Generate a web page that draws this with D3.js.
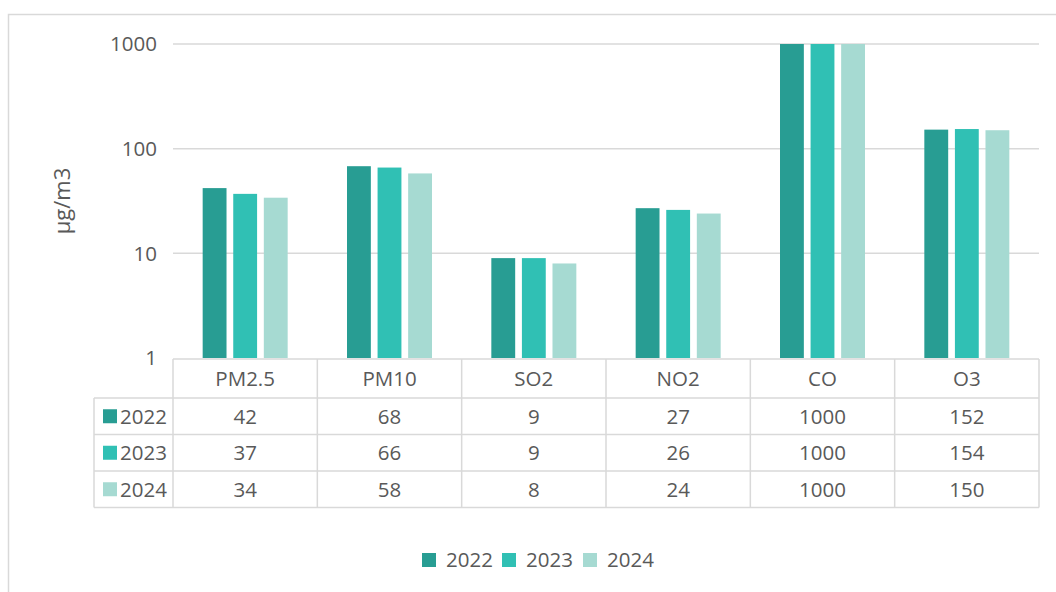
<!DOCTYPE html>
<html>
<head>
<meta charset="utf-8">
<script src="https://cdn.jsdelivr.net/npm/d3@7"></script>
<style>
  body { margin: 0; background: #fff; }
  text { font-family: "Open Sans", "Noto Sans", sans-serif; fill: #595959; }
</style>
</head>
<body>
<div id="chart"></div>
<script>
// data
var pollutants = ["PM2.5", "PM10", "SO2", "NO2", "CO", "O3"];
var years = ["2022", "2023", "2024"];
var values2022 = [42, 68, 9, 27, 1000, 152];
var values2023 = [37, 66, 9, 26, 1000, 154];
var values2024 = [34, 58, 8, 24, 1000, 150];
var yTicks = [1, 10, 100, 1000];
var colors = ["#289d93", "#30c0b4", "#a6dad2"];

var series = [values2022, values2023, values2024];

var W = 1056, H = 592;
var plot = { left: 173, right: 1039, top: 44, bottom: 358 };
var rowH = 36.5, headerH = 39;
var fs = 20.5;

var svg = d3.select("#chart").append("svg")
    .attr("width", W).attr("height", H);

// outer chart frame (runs off the right / bottom of the picture)
svg.append("rect")
    .attr("x", 8.5).attr("y", 14.5)
    .attr("width", 1200).attr("height", 800)
    .attr("fill", "none").attr("stroke", "#d9d9d9").attr("stroke-width", 1.5);

var x = d3.scaleBand().domain(pollutants).range([plot.left, plot.right]);
var y = d3.scaleLog().domain([1, 1000]).range([plot.bottom, plot.top]);
var xSub = d3.scaleBand().domain(years)
    .range([0, 85]).paddingInner(0.22);

// gridlines
svg.append("g").selectAll("line")
    .data(yTicks.slice(1))
    .join("line")
    .attr("x1", plot.left).attr("x2", plot.right)
    .attr("y1", function (d) { return y(d); })
    .attr("y2", function (d) { return y(d); })
    .attr("stroke", "#d9d9d9").attr("stroke-width", 1.5);

// y tick labels
svg.append("g").selectAll("text")
    .data(yTicks)
    .join("text")
    .attr("x", 157)
    .attr("y", function (d) { return y(d); })
    .attr("dy", "0.35em")
    .attr("text-anchor", "end")
    .attr("font-size", fs)
    .text(function (d) { return d; });

// y axis title
svg.append("text")
    .attr("transform", "translate(70,201) rotate(-90)")
    .attr("text-anchor", "middle")
    .attr("font-size", 22)
    .text("µg/m3");

// bars
years.forEach(function (yr, i) {
    svg.append("g").selectAll("rect")
        .data(series[i])
        .join("rect")
        .attr("x", function (d, j) {
            return x(pollutants[j]) + x.bandwidth() / 2 - 42.5 + xSub(yr);
        })
        .attr("y", function (d) { return y(d); })
        .attr("width", xSub.bandwidth())
        .attr("height", function (d) { return y(1) - y(d); })
        .attr("fill", colors[i]);
});

// data table
var tbl = svg.append("g");
var tTop = plot.bottom + 1, tLeft = 94;
var tBottom = tTop + headerH + rowH * 3;
var lineColor = "#d9d9d9";

function hline(x1, x2, yy) {
    tbl.append("line").attr("x1", x1).attr("x2", x2).attr("y1", yy).attr("y2", yy)
        .attr("stroke", lineColor).attr("stroke-width", 1.5);
}
function vline(xx, y1, y2) {
    tbl.append("line").attr("x1", xx).attr("x2", xx).attr("y1", y1).attr("y2", y2)
        .attr("stroke", lineColor).attr("stroke-width", 1.5);
}

hline(plot.left, plot.right, tTop);
for (var r = 0; r <= 3; r++) {
    hline(tLeft, plot.right, tTop + headerH + r * rowH);
}
vline(tLeft, tTop + headerH, tBottom);
pollutants.forEach(function (p) { vline(x(p), tTop, tBottom); });
vline(plot.right, tTop, tBottom);

// header
tbl.selectAll(".hdr")
    .data(pollutants)
    .join("text")
    .attr("class", "hdr")
    .attr("x", function (d) { return x(d) + x.bandwidth() / 2; })
    .attr("y", tTop + headerH / 2)
    .attr("dy", "0.36em")
    .attr("text-anchor", "middle")
    .attr("font-size", fs)
    .text(function (d) { return d; });

years.forEach(function (yr, i) {
    var cy = tTop + headerH + i * rowH + rowH / 2;
    tbl.append("rect")
        .attr("x", 103).attr("y", cy - 7)
        .attr("width", 14).attr("height", 14)
        .attr("fill", colors[i]);
    tbl.append("text")
        .attr("x", 120).attr("y", cy).attr("dy", "0.36em")
        .attr("font-size", fs)
        .text(yr);
    tbl.append("g").selectAll("text")
        .data(series[i])
        .join("text")
        .attr("x", function (d, j) { return x(pollutants[j]) + x.bandwidth() / 2; })
        .attr("y", cy).attr("dy", "0.36em")
        .attr("text-anchor", "middle")
        .attr("font-size", fs)
        .text(function (d) { return d; });
});

// legend
var legX = [422, 502, 583];
var leg = svg.append("g");
years.forEach(function (yr, i) {
    leg.append("rect")
        .attr("x", legX[i]).attr("y", 553)
        .attr("width", 14).attr("height", 14)
        .attr("fill", colors[i]);
    leg.append("text")
        .attr("x", legX[i] + 24).attr("y", 560).attr("dy", "0.36em")
        .attr("font-size", fs)
        .text(yr);
});
</script>
</body>
</html>
